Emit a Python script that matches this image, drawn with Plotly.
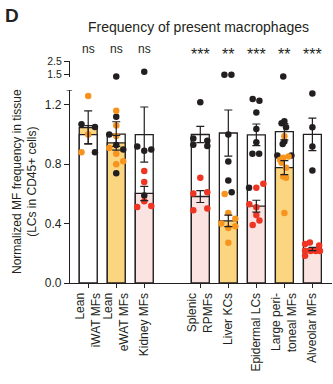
import numpy as np
import plotly.graph_objects as go

# ---------------- data ----------------
categories = ["Lean<br>iWAT MFs", "Lean<br>eWAT MFs", "Kidney MFs", "Splenic<br>RPMFs",
              "Liver KCs", "Epidermal LCs", "Large peri-<br>toneal MFs", "Alveolar MFs"]
positions = [0, 1, 2, 4, 5, 6, 7, 8]
significance = ["ns", "ns", "ns", "***", "**", "***", "**", "***"]
group_colour = ["orange", "orange", "red", "red", "orange", "red", "orange", "red"]

# control (black dots, white bars)
control_values = [
    [1.07, 1.05, 0.88],
    [1.33, 1.12, 1.00, 0.93, 0.90, 0.74],
    [1.70, 0.92, 0.89, 0.90, 0.59],
    [1.217, 0.973, 0.931, 0.958, 0.922],
    [1.47, 1.47, 1.00, 0.819, 0.691, 0.611],
    [1.24, 1.228, 1.148, 1.038, 0.948, 0.87, 0.87, 0.642],
    [1.33, 1.09, 1.076, 1.049, 0.953, 0.937, 0.859, 0.859],
    [1.277, 1.049, 0.919, 0.758],
]
control_jitter = [
    [-0.24, 0.24, 0.24],
    [0, 0, -0.25, 0, 0.25, 0],
    [0, -0.25, 0, 0.25, 0],
    [0, -0.25, -0.25, 0.25, 0.25],
    [-0.14, 0.11, 0, 0, 0, 0.12],
    [-0.13, 0.11, 0, 0, 0, -0.14, 0.10, -0.26],
    [-0.04, 0, -0.10, 0.06, 0, -0.06, -0.25, 0.25],
    [0, 0, 0, 0],
]
# treated / present (coloured dots and bars)
treated_values = [
    [1.26, 1.00, 0.88],
    [1.16, 1.06, 0.99, 0.91, 0.87, 0.82, 0.80],
    [0.754, 0.68, 0.512, 0.55, 0.519],
    [0.709, 0.602, 0.611, 0.49, 0.501],
    [0.60, 0.472, 0.40, 0.432, 0.383, 0.371, 0.271],
    [0.642, 0.669, 0.53, 0.51, 0.458, 0.421, 0.391],
    [0.989, 0.83, 0.843, 0.852, 0.81, 0.776, 0.718, 0.709, 0.472],
    [0.262, 0.273, 0.253, 0.217, 0.215, 0.215, 0.215, 0.183],
]
treated_jitter = [
    [0, 0, -0.24],
    [0, 0, 0, -0.25, 0, 0.25, 0],
    [0, 0, -0.25, 0, 0.25],
    [0, -0.25, 0.25, -0.25, 0.25],
    [-0.13, 0, -0.25, 0.25, 0.25, 0, 0],
    [0, 0.25, -0.25, 0, 0, 0.11, -0.13],
    [0, -0.15, -0.04, 0.15, -0.10, 0.06, -0.04, 0.06, 0],
    [-0.26, -0.09, 0.24, -0.26, -0.06, 0.12, 0.27, -0.26],
]

# ---------------- styles ----------------
INK = "#231F20"
DOT = {"orange": "#F7941D", "red": "#EE3524"}
BAR = {"orange": "#FCD581", "red": "#FBE3E2"}
BREAK = 1.3

def mean_sem(v):
    a = np.array(v, dtype=float)
    return a.mean(), a.std(ddof=1) / np.sqrt(len(a))

c_stats = [mean_sem(v) for v in control_values]
t_stats = [mean_sem(v) for v in treated_values]

fig = go.Figure()

# bars: taller drawn behind, shorter in front
back_y, back_c, front_y, front_c = [], [], [], []
for i in range(len(positions)):
    cm, tm = c_stats[i][0], t_stats[i][0]
    col = BAR[group_colour[i]]
    if cm >= tm:
        back_y.append(cm); back_c.append("white"); front_y.append(tm); front_c.append(col)
    else:
        back_y.append(tm); back_c.append(col); front_y.append(cm); front_c.append("white")

for ys, cs in [(back_y, back_c), (front_y, front_c)]:
    fig.add_trace(go.Bar(x=positions, y=ys, width=0.64,
                         marker=dict(color=cs, line=dict(color=INK, width=1.3)),
                         hoverinfo="skip"))

def add_dots(values, jitter, colours):
    lx, ly, lc, ux, uy, uc = [], [], [], [], [], []
    for i, (vals, jit) in enumerate(zip(values, jitter)):
        for v, j in zip(vals, jit):
            c = colours[i]
            if v > BREAK:
                ux.append(positions[i] + j); uy.append(v); uc.append(c)
            else:
                lx.append(positions[i] + j); ly.append(v); lc.append(c)
    fig.add_trace(go.Scatter(x=lx, y=ly, mode="markers", cliponaxis=False,
                             marker=dict(size=6.5, color=lc, line=dict(width=0))))
    if ux:
        fig.add_trace(go.Scatter(x=ux, y=uy, mode="markers", yaxis="y2", cliponaxis=False,
                                 marker=dict(size=6.5, color=uc, line=dict(width=0))))

add_dots(control_values, control_jitter, [INK] * len(positions))
add_dots(treated_values, treated_jitter, [DOT[g] for g in group_colour])

# error bars (mean +- SEM)
for stats in (c_stats, t_stats):
    fig.add_trace(go.Scatter(
        x=positions, y=[s[0] for s in stats], mode="markers", cliponaxis=False,
        marker=dict(size=1, opacity=0),
        error_y=dict(type="data", array=[s[1] for s in stats], visible=True,
                     color=INK, thickness=1.2, width=4)))

# significance labels
for p, s in zip(positions, significance):
    if s == "ns":
        fig.add_annotation(x=p, y=1.054, xref="x", yref="paper", text=s, showarrow=False,
                           font=dict(size=12, color=INK), xanchor="center", yanchor="middle")
    else:
        fig.add_annotation(x=p, y=1.030, xref="x", yref="paper", text=s, showarrow=False,
                           font=dict(size=16, color=INK), xanchor="center", yanchor="middle")

fig.add_annotation(x=0.492, y=1.153, xref="paper", yref="paper",
                   text="Frequency of present macrophages", showarrow=False,
                   font=dict(size=14, color=INK), xanchor="center", yanchor="middle")
fig.add_annotation(x=-0.221, y=1.207, xref="paper", yref="paper", text="<b>D</b>",
                   showarrow=False, font=dict(size=19, color=INK),
                   xanchor="center", yanchor="middle")
fig.add_annotation(x=-0.172, y=0.459, xref="paper", yref="paper", textangle=-90,
                   text="Normalized MF frequency in tissue<br>(LCs in CD45+ cells)",
                   showarrow=False, font=dict(size=12, color=INK),
                   xanchor="center", yanchor="middle")

# top cap of the lower axis segment
fig.add_shape(type="line", xref="paper", yref="y", x0=-0.013, x1=0.008, y0=BREAK, y1=BREAK,
              line=dict(color=INK, width=1.2))

axis_common = dict(showline=True, linecolor=INK, linewidth=1.2, showgrid=False,
                   zeroline=False, ticks="outside", tickcolor=INK, tickwidth=1.2)

fig.update_layout(
    width=333, height=384,
    margin=dict(l=70, r=1, t=61, b=101),
    plot_bgcolor="white", paper_bgcolor="white",
    showlegend=False, barmode="overlay",
    font=dict(family="Arial, Liberation Sans, sans-serif", size=12, color=INK),
    xaxis=dict(range=[-0.65, 8.7], tickvals=positions, ticktext=categories,
               tickangle=-90, ticklen=4, anchor="y",
               tickfont=dict(size=12, color=INK), **axis_common),
    yaxis=dict(domain=[0, 0.8694], range=[0, BREAK], tickvals=[0, 0.4, 0.8, 1.2],
               ticktext=["0.0", "0.4", "0.8", "1.2"], ticklen=5,
               tickfont=dict(size=12, color=INK), **axis_common),
    yaxis2=dict(domain=[0.9279, 1.0], range=[BREAK, 2.5], tickvals=[1.5, 2.5],
                ticktext=["1.5", "2.5"], ticklen=5, anchor="x",
                tickfont=dict(size=10.5, color=INK), **axis_common),
)

fig.write_html("out.html")
